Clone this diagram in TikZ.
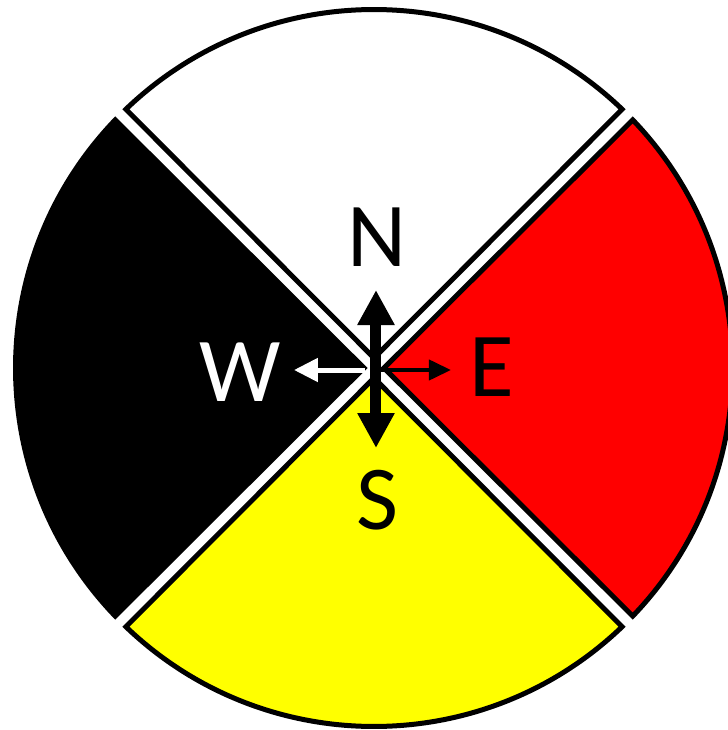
\documentclass[tikz,border=0pt]{standalone}
\usepackage{fontspec}
\setmainfont{Carlito}
\usepackage{tikz}
\usetikzlibrary{arrows.meta}
\definecolor{WheelRed}{RGB}{255,0,0}
\definecolor{WheelYellow}{RGB}{255,255,0}
\tikzset{
	quarter/.style={draw=black,line width=0.1cm},
	dirletter/.style={inner sep=0pt,font=\fontsize{52}{52}\selectfont},
	ns/.style={line width=0.22cm,{Triangle[length=0.7cm,width=0.7cm]}-{Triangle[length=0.7cm,width=0.7cm]}},
	westarrow/.style={draw=white,line width=0.1cm,-{Triangle[length=0.48cm,width=0.46cm]}},
	eastarrow/.style={draw=black,line width=0.08cm,-{Triangle[length=0.44cm,width=0.4cm]}},
}

\begin{document}
\begin{tikzpicture}
	\useasboundingbox (-7.48,-7.24) rectangle (7.06,7.36);
	% the four quarters
	\foreach \ang/\col in {90/white,0/WheelRed,-90/WheelYellow,180/black}{
		\draw[quarter,fill=\col] (\ang:0.2) -- (\ang-45+1.2:7.17)
			arc[start angle=\ang-45+1.2,end angle=\ang+45-1.2,radius=7.17] -- cycle;
	}
	% arrows
	\coordinate (ntip) at (0.04,1.56);
	\coordinate (stip) at (0.04,-1.6);
	\coordinate (wstart) at (-0.18,-0.04);
	\coordinate (wtip) at (-1.6,-0.04);
	\coordinate (estart) at (0.12,-0.04);
	\coordinate (etip) at (1.54,-0.04);
	\draw[westarrow] (wstart) -- (wtip);
	\draw[eastarrow] (estart) -- (etip);
	\draw[ns] (stip) -- (ntip);
	% letters
	\node[dirletter] (north) at (0.06,2.62) {N};
	\node[dirletter] (south) at (0.06,-2.64) {S};
	\node[dirletter,text=white] (west) at (-2.68,-0.08) {W};
	\node[dirletter] (east) at (2.36,0.02) {E};
\end{tikzpicture}
\end{document}
